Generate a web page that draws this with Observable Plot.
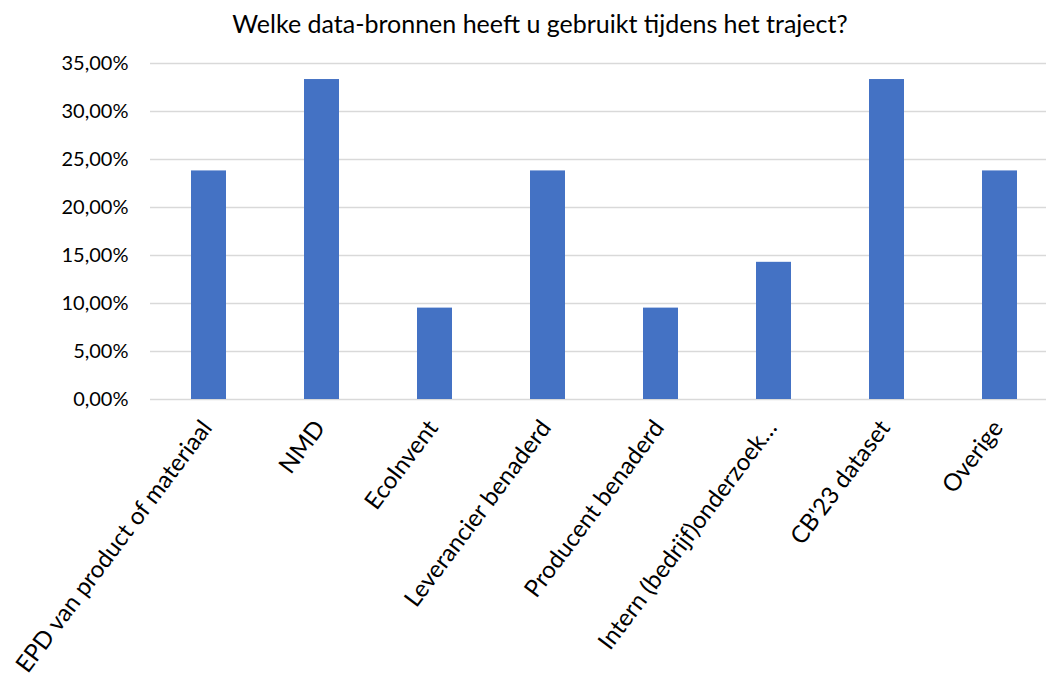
<!DOCTYPE html>
<html>
<head>
<meta charset="utf-8">
<script src="https://cdn.jsdelivr.net/npm/d3@7"></script>
<script src="https://cdn.jsdelivr.net/npm/@observablehq/plot@0.6"></script>
<style>
  html, body { margin: 0; padding: 0; background: #fff; overflow: hidden; }
  #title { height: 44px; line-height: 46px; text-align: center; font-family: Lato, "Open Sans", sans-serif; font-size: 25px; color: #000; padding-left: 34px; white-space: nowrap; }
</style>
</head>
<body>
<div id="title">Welke data-bronnen heeft u gebruikt tijdens het traject?</div>
<div id="chart"></div>
<script>
const categories = ["EPD van product of materiaal", "NMD", "EcoInvent", "Leverancier benaderd", "Producent benaderd", "Intern (bedrijf)onderzoek…", "CB'23 dataset", "Overige"];
const values = [23.81, 33.33, 9.52, 23.81, 9.52, 14.29, 33.33, 23.81];
const yTicks = [0, 5, 10, 15, 20, 25, 30, 35];

const data = categories.map((c, i) => ({category: c, value: values[i]}));

const chart = Plot.plot({
  width: 1046,
  height: 647,
  marginTop: 19,
  marginBottom: 292,
  marginLeft: 150,
  marginRight: 0,
  style: { fontFamily: "Lato, 'Open Sans', sans-serif", fontSize: "20px", color: "#000", background: "#fff", overflow: "hidden" },
  x: { domain: categories, range: [150, 1059], paddingInner: 0.69, paddingOuter: 0.345, align: 0.5 },
  y: { domain: [0, 35] },
  marks: [
    Plot.gridY(yTicks, { stroke: "#d9d9d9", strokeOpacity: 1, strokeWidth: 1.5 }),
    Plot.barY(data, { x: "category", y: "value", fill: "#4472c4" }),
    Plot.axisY(yTicks, { tickSize: 0, tickPadding: 22, fontSize: 20, tickFormat: d => d.toFixed(2).replace(".", ",") + "%", label: null }),
    Plot.axisX({ tickSize: 0, tickRotate: -53, tickPadding: 24, fontSize: 24, label: null, dx: -2 })
  ]
});
document.getElementById("chart").appendChild(chart);
</script>
</body>
</html>
